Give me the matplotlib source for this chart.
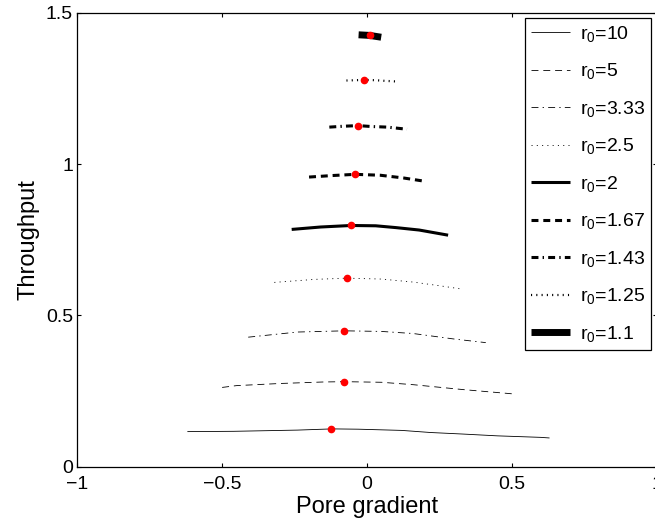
import numpy as np
import matplotlib
matplotlib.use('Agg')
import matplotlib.pyplot as plt

plt.rcParams['font.family'] = ['Liberation Sans', 'DejaVu Sans']
plt.rcParams['mathtext.fontset'] = 'custom'
plt.rcParams['mathtext.rm'] = 'Liberation Sans'
plt.rcParams['mathtext.default'] = 'regular'
plt.rcParams['lines.scale_dashes'] = False

# curves: pore gradient vs throughput, one per r0
labels = ['r$_0$=10', 'r$_0$=5', 'r$_0$=3.33', 'r$_0$=2.5', 'r$_0$=2',
          'r$_0$=1.67', 'r$_0$=1.43', 'r$_0$=1.25', 'r$_0$=1.1']

x_10 = [-0.62, -0.46, -0.24, -0.12, -0.03, 0.12, 0.22, 0.33, 0.45, 0.60, 0.63]
y_10 = [0.116, 0.117, 0.121, 0.125, 0.124, 0.120, 0.113, 0.108, 0.102, 0.097, 0.095]
x_5 = [-0.50, -0.45, -0.30, -0.15, -0.078, 0.05, 0.16, 0.33, 0.50]
y_5 = [0.262, 0.268, 0.275, 0.280, 0.281, 0.279, 0.271, 0.255, 0.241]
x_333 = [-0.41, -0.24, -0.078, 0.05, 0.16, 0.30, 0.41]
y_333 = [0.428, 0.445, 0.449, 0.447, 0.440, 0.422, 0.410]
x_25 = [-0.32, -0.18, -0.069, 0.05, 0.16, 0.25, 0.32]
y_25 = [0.609, 0.619, 0.623, 0.620, 0.610, 0.598, 0.588]
x_2 = [-0.26, -0.16, -0.055, 0.03, 0.10, 0.18, 0.28]
y_2 = [0.784, 0.792, 0.797, 0.796, 0.790, 0.782, 0.765]
x_167 = [-0.20, -0.12, -0.041, 0.046, 0.126, 0.20]
y_167 = [0.957, 0.962, 0.966, 0.963, 0.954, 0.943]
x_143 = [-0.13, -0.08, -0.031, 0.015, 0.07, 0.138]
y_143 = [1.122, 1.125, 1.127, 1.124, 1.122, 1.115]
x_125 = [-0.071, -0.04, -0.009, 0.03, 0.06, 0.098]
y_125 = [1.276, 1.277, 1.278, 1.277, 1.275, 1.273]
x_11 = [-0.029, 0.009, 0.049]
y_11 = [1.427, 1.425, 1.419]

# maximum of each curve (red dots)
peak_x = [-0.123, -0.078, -0.078, -0.069, -0.055, -0.041, -0.031, -0.009, 0.009]
peak_y = [0.125, 0.281, 0.449, 0.623, 0.797, 0.966, 1.127, 1.278, 1.425]

xticks = [-1, -0.5, 0, 0.5, 1]
xticklabels = ['\u22121', '\u22120.5', '0', '0.5', '1']
yticks = [0, 0.5, 1, 1.5]
yticklabels = ['0', '0.5', '1', '1.5']

curves = [(x_10, y_10), (x_5, y_5), (x_333, y_333), (x_25, y_25), (x_2, y_2),
          (x_167, y_167), (x_143, y_143), (x_125, y_125), (x_11, y_11)]

solid = ()
dashed = (5, 3.5)
dashdot = (5, 3, 1, 3)
dotted = (0.8, 3)
styles = [(0.6, solid), (0.6, dashed), (0.6, dashdot), (0.6, dotted),
          (2.2, solid), (2.2, dashed), (2.2, dashdot), (1.6, dotted),
          (5.0, solid)]

fig = plt.figure(figsize=(6.55, 5.25), dpi=100)
ax = fig.add_axes([0.118, 0.111, 0.8846, 0.8648])

for (xs, ys), lab, (lw, dash) in zip(curves, labels, styles):
    line, = ax.plot(xs, ys, color='black', lw=lw, label=lab,
                    solid_capstyle='butt', dash_capstyle='butt')
    if dash:
        line.set_dashes(dash)

ax.plot(peak_x, peak_y, 'o', color='red', ms=4.5, mec='red', zorder=5)

ax.set_xlim(-1, 1)
ax.set_ylim(0, 1.5)
ax.set_xticks(xticks)
ax.set_xticklabels(xticklabels)
ax.set_yticks(yticks)
ax.set_yticklabels(yticklabels)
ax.tick_params(direction='in', length=3, width=0.8, labelsize=14,
               top=True, right=True)
ax.tick_params(axis='x', pad=7)
ax.tick_params(axis='y', pad=3)
for sp in ax.spines.values():
    sp.set_linewidth(0.9)

ax.set_xlabel('Pore gradient', fontsize=17, labelpad=2)
ax.set_ylabel('Throughput', fontsize=17, labelpad=5)

leg = ax.legend(loc='upper right', bbox_to_anchor=(651 / 655, 507 / 525),
                bbox_transform=fig.transFigure, borderaxespad=0,
                fontsize=14, handlelength=2.0, handletextpad=0.5,
                labelspacing=0.9, fancybox=False, framealpha=1,
                edgecolor='black', borderpad=0.3)
leg.get_frame().set_linewidth(0.9)

fig.savefig('out.png', dpi=100)
